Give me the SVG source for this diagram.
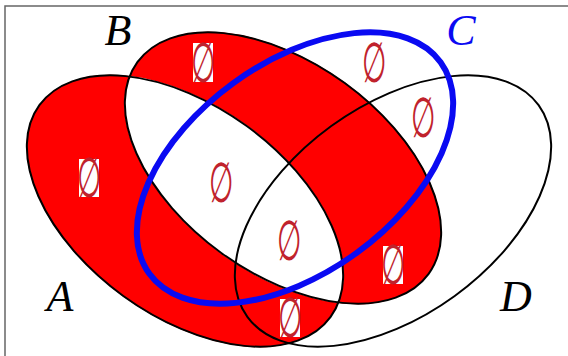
<svg xmlns="http://www.w3.org/2000/svg" width="568" height="356" viewBox="0 0 568 356">
<style>
.ol{fill:none;stroke:#000;stroke-width:2}
.blue{fill:none;stroke:#0a0af2;stroke-width:6}
.lbl{font-family:"Liberation Serif","Times New Roman",serif;font-style:italic;font-size:44px;text-anchor:middle}
.e{font-family:"DejaVu Serif",serif;font-size:56px;fill:#c0222c;text-anchor:middle}
.bx{fill:#fff}
</style>
<rect width="568" height="356" fill="#fff"/>
<path d="M5,356 V6 H568" fill="none" stroke="#666" stroke-width="1.5"/>
<g id="fill">
<path fill="#ff0000" fill-rule="evenodd" d="M39.38,105.2 A180,105 36 1 0 330.62,316.8 A180,105 36 1 0 39.38,105.2 Z M137.38,62.2 A180,105 36 1 0 428.62,273.8 A180,105 36 1 0 137.38,62.2 Z"/>
</g>
<g id="set-A">
<ellipse class="ol" cx="185" cy="211" rx="180" ry="105" transform="rotate(36 185 211)"/>
<text class="lbl" x="60" y="311">A</text>
</g>
<g id="set-B">
<ellipse class="ol" cx="283" cy="168" rx="180" ry="105" transform="rotate(36 283 168)"/>
<text class="lbl" x="118" y="45">B</text>
</g>
<g id="set-D">
<ellipse class="ol" cx="393" cy="211" rx="180" ry="105" transform="rotate(-36 393 211)"/>
<text class="lbl" x="516" y="311">D</text>
</g>
<g id="set-C">
<ellipse class="blue" cx="295" cy="168" rx="180" ry="105" transform="rotate(-36 295 168)"/>
<text class="lbl" x="461" y="45" fill="#0a0af2">C</text>
</g>
<g id="regions">
<g id="r-B"><rect class="bx" x="193" y="43" width="20" height="39"/><text class="e" transform="translate(203,62.5) scale(0.5,1)" y="19">∅</text></g>
<g id="r-A"><rect class="bx" x="79" y="159" width="20" height="38"/><text class="e" transform="translate(89,178) scale(0.5,1)" y="19">∅</text></g>
<g id="r-BD"><rect class="bx" x="383" y="246" width="20" height="38"/><text class="e" transform="translate(393,265) scale(0.5,1)" y="19">∅</text></g>
<g id="r-AD"><rect class="bx" x="280" y="299" width="20" height="38"/><text class="e" transform="translate(290,318) scale(0.5,1)" y="19">∅</text></g>
<g id="r-C"><text class="e" transform="translate(374,63) scale(0.5,1)" y="19">∅</text></g>
<g id="r-CD"><text class="e" transform="translate(423,117.5) scale(0.5,1)" y="19">∅</text></g>
<g id="r-ABC"><text class="e" transform="translate(221,183) scale(0.5,1)" y="19">∅</text></g>
<g id="r-ABCD"><text class="e" transform="translate(289,241) scale(0.5,1)" y="19">∅</text></g>
</g>
</svg>
